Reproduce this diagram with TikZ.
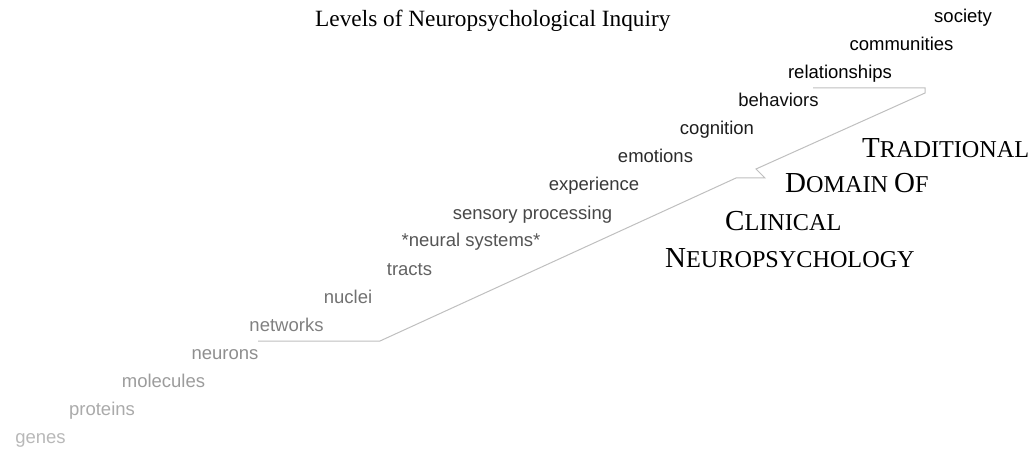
\documentclass[tikz,border=0pt]{standalone}
\usepackage{fontspec}
\setmainfont{Liberation Serif}
\setsansfont{Liberation Sans}
\usetikzlibrary{positioning}

% first letter large, the rest as small capitals
\newcommand\bigsc[2]{{\fontsize{29}{29}\selectfont #1}{\fontsize{24.2}{24.2}\selectfont #2}}

\begin{document}
\begin{tikzpicture}[x=1pt,y=-1pt,
  level/.style={anchor=base,inner sep=0pt,font=\sffamily\fontsize{18.5}{20}\selectfont},
  clinic/.style={anchor=base west,inner sep=0pt,font=\rmfamily\fontsize{24.2}{25}\selectfont},
  bracket/.style={draw=black!25,line width=1pt,line join=miter}]
  \useasboundingbox (0,0) rectangle (1036,449);

  \node[anchor=base west,inner sep=0pt,font=\rmfamily\fontsize{23.3}{24}\selectfont] (title) at (315,27)
    {Levels of Neuropsychological Inquiry};

  % the levels, from genes up to society
  \foreach \w [count=\i from 0] in {genes,proteins,molecules,neurons,networks,nuclei,tracts,
      {*neural systems*},{sensory processing},experience,emotions,cognition,behaviors,
      relationships,communities,society} {
    \pgfmathsetmacro\shade{min(100,28+5.5*\i)}
    \node[level,text=black!\shade] (w\i) at (40.5+61.5*\i,443-28*\i) {\w};
  }

  \node[clinic] (d1) at (862,158) {\bigsc{T}{RADITIONAL}};
  \node[clinic] (d2) at (785,193) {\bigsc{D}{OMAIN} \bigsc{O}{F}};
  \node[clinic] (d3) at (725,231) {\bigsc{C}{LINICAL}};
  \node[clinic] (d4) at (665,267) {\bigsc{N}{EUROPSYCHOLOGY}};

  \coordinate (b1) at (258,341);
  \coordinate (b2) at (380,341);
  \coordinate (b3) at (736,178);
  \coordinate (b4) at (765,178);
  \coordinate (b5) at (756,169);
  \coordinate (b6) at (925,93);
  \coordinate (b7) at (925,88);
  \coordinate (b8) at (813,88);
  \draw[bracket] (b1) -- (b2) -- (b3) -- (b4) -- (b5) -- (b6) -- (b7) -- (b8);
\end{tikzpicture}
\end{document}
